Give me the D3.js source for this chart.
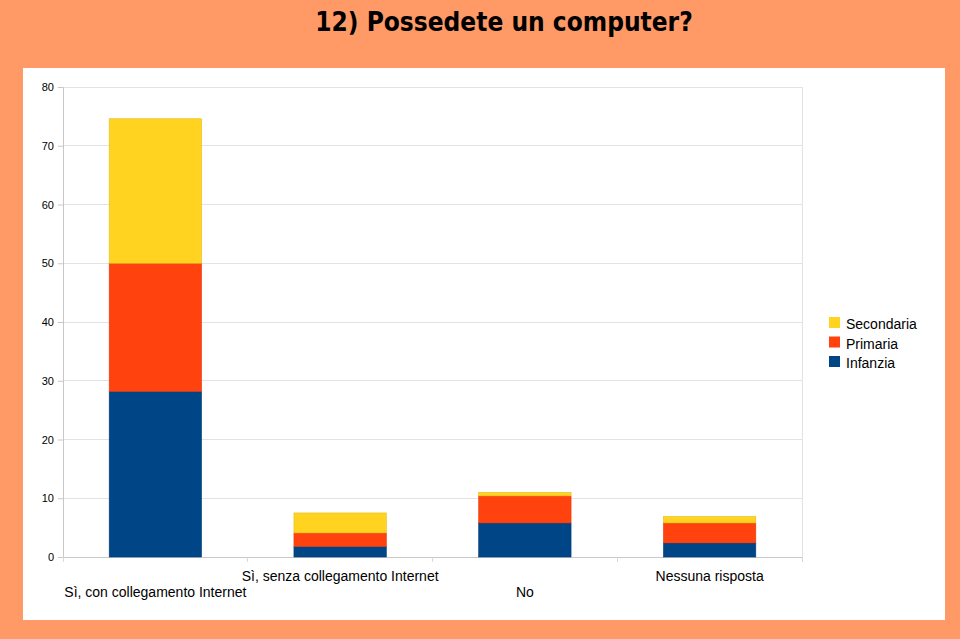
<!DOCTYPE html>
<html><head><meta charset="utf-8">
<script src="https://cdn.jsdelivr.net/npm/d3@7"></script>
<style>html,body{margin:0;padding:0;background:#ff9966;}</style>
</head><body>
<svg id="c" width="960" height="639"></svg>
<script>
const categories = ["Sì, con collegamento Internet","Sì, senza collegamento Internet","No","Nessuna risposta"];
const infanzia   = [28.2, 1.8, 5.8, 2.4];
const primaria   = [21.8, 2.3, 4.6, 3.4];
const secondaria = [24.6, 3.4, 0.6, 1.1];
const seriesNames = ["Infanzia","Primaria","Secondaria"];
const seriesColors = ["#004586","#ff420e","#ffd320"];
const yTicks = [0,10,20,30,40,50,60,70,80];

const svg = d3.select("#c");
svg.append("rect").attr("width",960).attr("height",639).attr("fill","#ff9966");
svg.append("rect").attr("x",23).attr("y",68).attr("width",922).attr("height",552).attr("fill","#ffffff");

svg.append("text").attr("x",504).attr("y",31).attr("text-anchor","middle")
  .attr("font-family","'DejaVu Sans Condensed','DejaVu Sans',sans-serif").attr("font-weight","bold")
  .attr("font-size",26).attr("fill","#000").text("12) Possedete un computer?");

const L=63,R=802,T=87,B=557;
const x = d3.scaleBand().domain(categories).range([L,R]).paddingInner(0.5).paddingOuter(0.25);
const xb = d3.scaleBand().domain(categories).range([L,R]);
const y = d3.scaleLinear().domain([0,80]).range([B,T]);

// grid
svg.append("g").selectAll("line").data(yTicks).join("line")
  .attr("x1",L).attr("x2",R).attr("y1",d=>y(d)).attr("y2",d=>y(d))
  .attr("stroke","#e3e3e3").attr("stroke-width",1).attr("shape-rendering","crispEdges");
svg.append("line").attr("x1",R).attr("x2",R).attr("y1",T).attr("y2",B).attr("stroke","#e3e3e3").attr("shape-rendering","crispEdges");

// y axis
const ya = svg.append("g").attr("transform",`translate(${L},0)`)
  .call(d3.axisLeft(y).tickValues(yTicks).tickSize(5).tickPadding(4));
ya.select(".domain").attr("stroke","#c8c8c8");
ya.selectAll(".tick line").attr("stroke","#c8c8c8");
ya.selectAll("text").attr("font-family","'Liberation Sans',Arial,sans-serif").attr("font-size",11).attr("fill","#000");

// x axis line and ticks at boundaries
svg.append("line").attr("x1",L).attr("x2",R).attr("y1",B).attr("y2",B).attr("stroke","#c8c8c8").attr("shape-rendering","crispEdges");
const bounds = categories.map(c=>xb(c)).concat([R]);
svg.append("g").selectAll("line").data(bounds).join("line")
  .attr("x1",d=>d).attr("x2",d=>d).attr("y1",B).attr("y2",B+5)
  .attr("stroke","#d8d8d8").attr("shape-rendering","crispEdges");

// stacked bars
const rows = categories.map((c,i)=>({cat:c, Infanzia:infanzia[i], Primaria:primaria[i], Secondaria:secondaria[i]}));
const stack = d3.stack().keys(seriesNames)(rows);
svg.append("g").selectAll("g").data(stack).join("g")
  .attr("fill",(d,i)=>seriesColors[i])
  .attr("stroke",(d,i)=>d3.color(seriesColors[i]).darker(0.3))
  .attr("stroke-width",0.6)
  .selectAll("rect").data(d=>d).join("rect")
  .attr("x",d=>x(d.data.cat)).attr("width",x.bandwidth())
  .attr("y",d=>y(d[1])).attr("height",d=>y(d[0])-y(d[1]));

// x labels staggered
svg.append("g").selectAll("text").data(categories).join("text")
  .attr("x",d=>xb(d)+xb.bandwidth()/2)
  .attr("y",(d,i)=> i%2===0 ? 597 : 581)
  .attr("text-anchor","middle")
  .attr("font-family","'Liberation Sans',Arial,sans-serif").attr("font-size",14).attr("fill","#000")
  .text(d=>d);

// legend
const leg = svg.append("g");
const legOrder = [2,1,0];
legOrder.forEach((si,k)=>{
  const yy = 317 + k*19.5;
  leg.append("rect").attr("x",829).attr("y",yy).attr("width",11).attr("height",11).attr("fill",seriesColors[si]);
  leg.append("text").attr("x",846).attr("y",yy+12).attr("font-family","'Liberation Sans',Arial,sans-serif")
    .attr("font-size",14).attr("fill","#000").text(seriesNames[si]);
});
</script>
</body></html>
